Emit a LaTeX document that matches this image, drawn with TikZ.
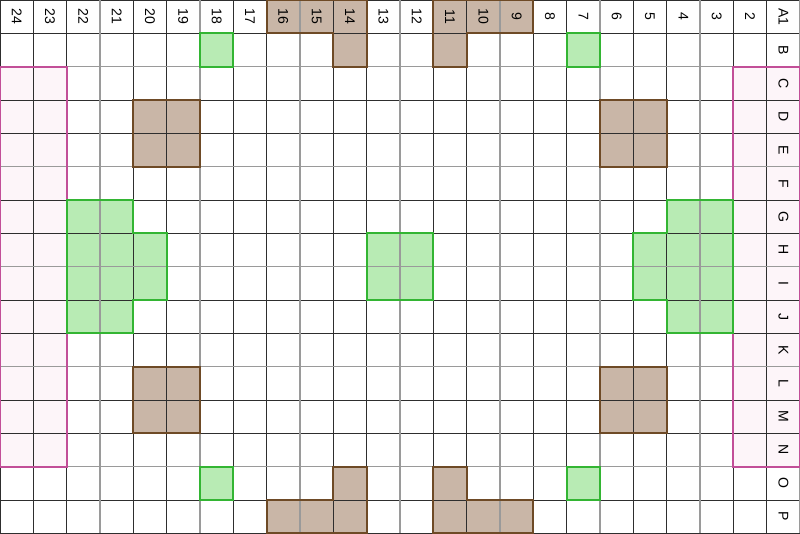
\documentclass[tikz,border=0pt]{standalone}
\usepackage{fontspec}
\setmainfont{Liberation Sans}

\definecolor{gridline}{HTML}{2E2E2E}
\definecolor{majorline}{HTML}{9A9A9A}
\definecolor{wallfill}{HTML}{C9B6A7}
\definecolor{walledge}{HTML}{6E4A26}
\definecolor{plantfill}{HTML}{B8EBB4}
\definecolor{plantedge}{HTML}{33B533}
\definecolor{bedfill}{HTML}{FDF5F9}
\definecolor{bededge}{HTML}{C24F98}

\tikzset{
  wall/.style={fill=wallfill, draw=walledge, line width=1.6pt},
  plant/.style={fill=plantfill, draw=plantedge, line width=1.6pt},
  bed/.style={fill=bedfill, draw=bededge, line width=1.6pt},
  celltext/.style={rotate=-90, font=\fontsize{12}{12}\selectfont, inner sep=0pt}
}

\begin{document}
\begin{tikzpicture}[yscale=-1]
		\useasboundingbox (0,0) rectangle (24,16);
		\fill[white] (0,0) rectangle (24,16);
		
		% beds along both sides
		\fill[bedfill] (0,2) rectangle (2,14);
		\fill[bedfill] (22,2) rectangle (24,14);
		
		% walls
		\fill[wallfill] (8,0) -- (11,0) -- (11,2) -- (10,2) -- (10,1) -- (8,1) -- cycle;
		\fill[wallfill] (13,0) -- (16,0) -- (16,1) -- (14,1) -- (14,2) -- (13,2) -- cycle;
		\fill[wallfill] (10,14) -- (11,14) -- (11,16) -- (8,16) -- (8,15) -- (10,15) -- cycle;
		\fill[wallfill] (13,14) -- (14,14) -- (14,15) -- (16,15) -- (16,16) -- (13,16) -- cycle;
		\fill[wallfill] (4,3) rectangle (6,5);
		\fill[wallfill] (18,3) rectangle (20,5);
		\fill[wallfill] (4,11) rectangle (6,13);
		\fill[wallfill] (18,11) rectangle (20,13);
		
		% plants
		\fill[plantfill] (6,1) rectangle (7,2);
		\fill[plantfill] (17,1) rectangle (18,2);
		\fill[plantfill] (6,14) rectangle (7,15);
		\fill[plantfill] (17,14) rectangle (18,15);
		\fill[plantfill] (11,7) rectangle (13,9);
		\fill[plantfill] (2,6) -- (4,6) -- (4,7) -- (5,7) -- (5,9) -- (4,9) -- (4,10) -- (2,10) -- cycle;
		\fill[plantfill] (20,6) -- (22,6) -- (22,10) -- (20,10) -- (20,9) -- (19,9) -- (19,7) -- (20,7) -- cycle;
		
		% grid
		\draw[gridline, line width=0.8pt] (0,0) grid (24,16);
		\foreach \x in {3,6,...,24}
			\draw[majorline, line width=1.3pt] (\x,0) -- (\x,16);
		\foreach \y in {2,5,...,14}
			\draw[majorline, line width=1.3pt] (0,\y) -- (24,\y);
		
		% outlines
		\draw[bed, fill=none] (0,2) rectangle (2,14);
		\draw[bed, fill=none] (22,2) rectangle (24,14);
		\draw[wall, fill=none] (8,0) -- (11,0) -- (11,2) -- (10,2) -- (10,1) -- (8,1) -- cycle;
		\draw[wall, fill=none] (13,0) -- (16,0) -- (16,1) -- (14,1) -- (14,2) -- (13,2) -- cycle;
		\draw[wall, fill=none] (10,14) -- (11,14) -- (11,16) -- (8,16) -- (8,15) -- (10,15) -- cycle;
		\draw[wall, fill=none] (13,14) -- (14,14) -- (14,15) -- (16,15) -- (16,16) -- (13,16) -- cycle;
		\draw[wall, fill=none] (4,3) rectangle (6,5);
		\draw[wall, fill=none] (18,3) rectangle (20,5);
		\draw[wall, fill=none] (4,11) rectangle (6,13);
		\draw[wall, fill=none] (18,11) rectangle (20,13);
		\draw[plant, fill=none] (6,1) rectangle (7,2);
		\draw[plant, fill=none] (17,1) rectangle (18,2);
		\draw[plant, fill=none] (6,14) rectangle (7,15);
		\draw[plant, fill=none] (17,14) rectangle (18,15);
		\draw[plant, fill=none] (11,7) rectangle (13,9);
		\draw[plant, fill=none] (2,6) -- (4,6) -- (4,7) -- (5,7) -- (5,9) -- (4,9) -- (4,10) -- (2,10) -- cycle;
		\draw[plant, fill=none] (20,6) -- (22,6) -- (22,10) -- (20,10) -- (20,9) -- (19,9) -- (19,7) -- (20,7) -- cycle;
		
		% column numbers and row letters
		\foreach \c in {0,...,22} {
			\pgfmathtruncatemacro{\n}{24-\c}
			\node[celltext] (col-\n) at (\c+0.5,0.5) {\n};
		}
		\node[celltext] (col-A1) at (23.5,0.5) {A1};
		\foreach \l [count=\r] in {B,C,D,E,F,G,H,I,J,K,L,M,N,O,P}
			\node[celltext] (row-\l) at (23.5,\r+0.5) {\l};
\end{tikzpicture}
\end{document}
